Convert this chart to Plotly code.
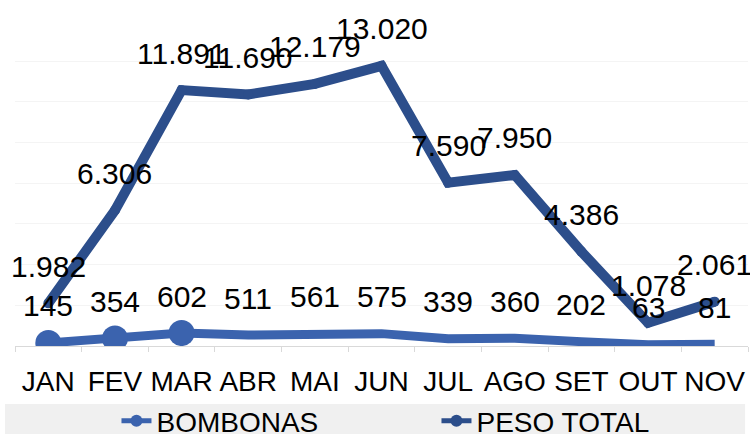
import plotly.graph_objects as go

meses = ["JAN", "FEV", "MAR", "ABR", "MAI", "JUN", "JUL", "AGO", "SET", "OUT", "NOV"]
bombonas = [145, 354, 602, 511, 561, 575, 339, 360, 202, 63, 81]
peso_total = [1982, 6306, 11891, 11690, 12179, 13020, 7590, 7950, 4386, 1078, 2061]

def fmt(v):
    return f"{v:,}".replace(",", ".")

COL_B = "#3B63AE"
COL_P = "#2C4E8B"
FONT = "Liberation Sans, Arial, sans-serif"

b_marker_sizes = [26 if i < 3 else 0 for i in range(len(meses))]

fig = go.Figure()
fig.add_trace(go.Scatter(
    x=meses, y=bombonas, name="BOMBONAS", mode="lines+markers",
    line=dict(color=COL_B, width=9),
    marker=dict(color=COL_B, size=b_marker_sizes, opacity=1, line=dict(width=0)),
))
fig.add_trace(go.Scatter(
    x=meses, y=peso_total, name="PESO TOTAL", mode="lines+markers",
    line=dict(color=COL_P, width=10),
    marker=dict(color=COL_P, size=10, opacity=1, line=dict(width=0)),
))

annotations = []
for series in (peso_total, bombonas):
    for m, v in zip(meses, series):
        annotations.append(dict(
            x=m, y=v, text=fmt(v), showarrow=False, yshift=37,
            xanchor="center", yanchor="middle",
            font=dict(family=FONT, size=30, color="#000000"),
        ))

fig.update_layout(
    template="none",
    width=750, height=434,
    margin=dict(l=15, r=2, t=20, b=88, autoexpand=False),
    paper_bgcolor="white", plot_bgcolor="white",
    font=dict(family=FONT, size=28, color="#000000"),
    showlegend=True,
    legend=dict(
        orientation="h", x=0.575, xanchor="center",
        yref="container", y=0.03, yanchor="middle",
        bgcolor="rgba(0,0,0,0)", entrywidth=275, itemsizing="constant",
        font=dict(family=FONT, size=28, color="#000000"),
    ),
    annotations=annotations,
    shapes=[dict(
        type="rect", xref="paper", yref="paper", layer="below",
        x0=-0.0136, x1=0.996, y0=-0.32, y1=-0.178,
        fillcolor="#F0F0F0", line=dict(width=0),
    )],
)
fig.update_xaxes(
    type="category", range=[-0.5, len(meses) - 0.5],
    showline=True, linecolor="#D9D9D9", linewidth=1,
    ticks="outside", tickson="boundaries", ticklen=5, tickcolor="#D9D9D9",
    showgrid=False, ticklabelstandoff=10, tickangle=0, automargin=False,
    tickfont=dict(family=FONT, size=28, color="#000000"),
)
fig.update_yaxes(
    range=[0, 15150], dtick=1890, showticklabels=False, automargin=False,
    showgrid=True, gridcolor="#F4F4F4", gridwidth=1, zeroline=False,
)

fig.write_html(
    "out.html",
    config={"displayModeBar": False},
    post_script="document.body.style.margin='0';document.body.style.overflow='hidden';",
)
